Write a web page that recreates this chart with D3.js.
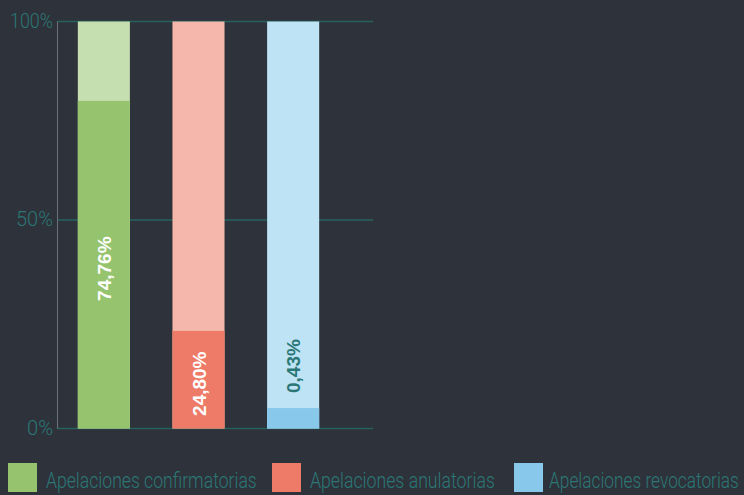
<!DOCTYPE html>
<html>
<head>
<meta charset="utf-8">
<script src="https://cdn.jsdelivr.net/npm/d3@7"></script>
<style>
  html, body { margin: 0; padding: 0; background: #2e323a; }
  svg { display: block; font-family: Roboto, "Liberation Sans", sans-serif; }
</style>
</head>
<body>
<svg id="chart"></svg>
<script>
// chart data
const categories = ["Apelaciones confirmatorias", "Apelaciones anulatorias", "Apelaciones revocatorias"];
const barValues = [80.0, 23.4, 4.9];          // bar heights as drawn (%)
const barLabels = ["74,76%", "24,80%", "0,43%"];
const yTicks = [0, 50, 100];
const tickLabels = ["0%", "50%", "100%"];
const darkColors = ["#96c46e", "#ee7b67", "#88c8ea"];
const lightColors = ["#c5dfb0", "#f5b7ab", "#bde3f5"];
const labelColors = ["#ffffff", "#ffffff", "#2a7775"];

const width = 744, height = 495;
const svg = d3.select("#chart").attr("width", width).attr("height", height);

const x = d3.scaleBand()
    .domain(categories)
    .range([57, 340])
    .paddingInner(0.45)
    .paddingOuter(0.22);
const y = d3.scaleLinear().domain([0, 50, 100]).range([428.5, 220, 21.5]);

// squeeze a text horizontally to a given width (no condensed font available)
function condense(sel, widths) {
  sel.each(function(d, i) {
    const t = d3.select(this);
    const natural = this.getComputedTextLength();
    const sx = Math.min(1, widths[i] / natural);
    t.attr("transform", (t.attr("transform") || "") + " scale(" + sx + ",1)");
  });
}

// gridlines
svg.append("g").selectAll("line").data(yTicks).enter().append("line")
    .attr("x1", 57).attr("x2", 373)
    .attr("y1", d => y(d)).attr("y2", d => y(d))
    .attr("stroke", "#27625f").attr("stroke-width", 1.5);

// y axis line
svg.append("line")
    .attr("x1", 57.5).attr("x2", 57.5)
    .attr("y1", y(100)).attr("y2", y(0))
    .attr("stroke", "#6d7178").attr("stroke-width", 1);

// tick labels
const tickWidths = [26, 37, 43];
svg.append("g").selectAll("text").data(yTicks).enter().append("text")
    .attr("transform", d => "translate(53," + (y(d) + 6) + ")")
    .attr("text-anchor", "end")
    .attr("fill", "#2b7876")
    .style("font-size", "21px")
    .style("font-weight", 300)
    .text((d, i) => tickLabels[i])
    .call(condense, tickWidths);

// background (100%) bars
svg.append("g").selectAll("rect").data(categories).enter().append("rect")
    .attr("x", d => x(d)).attr("width", x.bandwidth())
    .attr("y", y(100)).attr("height", y(0) - y(100))
    .attr("fill", (d, i) => lightColors[i]);

// value bars
svg.append("g").selectAll("rect").data(categories).enter().append("rect")
    .attr("x", d => x(d)).attr("width", x.bandwidth())
    .attr("y", (d, i) => y(barValues[i]))
    .attr("height", (d, i) => y(0) - y(barValues[i]))
    .attr("fill", (d, i) => darkColors[i]);

// rotated value labels
svg.append("g").selectAll("text").data(categories).enter().append("text")
    .attr("transform", (d, i) => {
      const top = y(barValues[i]);
      const h = y(0) - top;
      const cy = h > 60 ? (top + y(0)) / 2 + 4 : top - 42;
      const cx = x(d) + x.bandwidth() / 2;
      return "translate(" + (cx + 7) + "," + cy + ") rotate(-90)";
    })
    .attr("text-anchor", "middle")
    .attr("fill", (d, i) => labelColors[i])
    .style("font-family", "'Liberation Sans', sans-serif")
    .style("font-weight", "bold")
    .style("font-size", "19px")
    .text((d, i) => barLabels[i]);

// legend
const legendX = [8, 272, 514];
const legendTextWidths = [211, 185, 190];
const legend = svg.append("g").selectAll("g").data(categories).enter().append("g")
    .attr("transform", (d, i) => "translate(" + legendX[i] + ",463)");
legend.append("rect")
    .attr("width", 29).attr("height", 29)
    .attr("fill", (d, i) => darkColors[i]);
legend.append("text")
    .attr("transform", (d, i) => "translate(" + (i === 2 ? 35 : 38) + ",25)")
    .attr("fill", "#2b7876")
    .style("font-size", "22px")
    .style("font-weight", 300)
    .text(d => d)
    .call(condense, legendTextWidths);
</script>
</body>
</html>
